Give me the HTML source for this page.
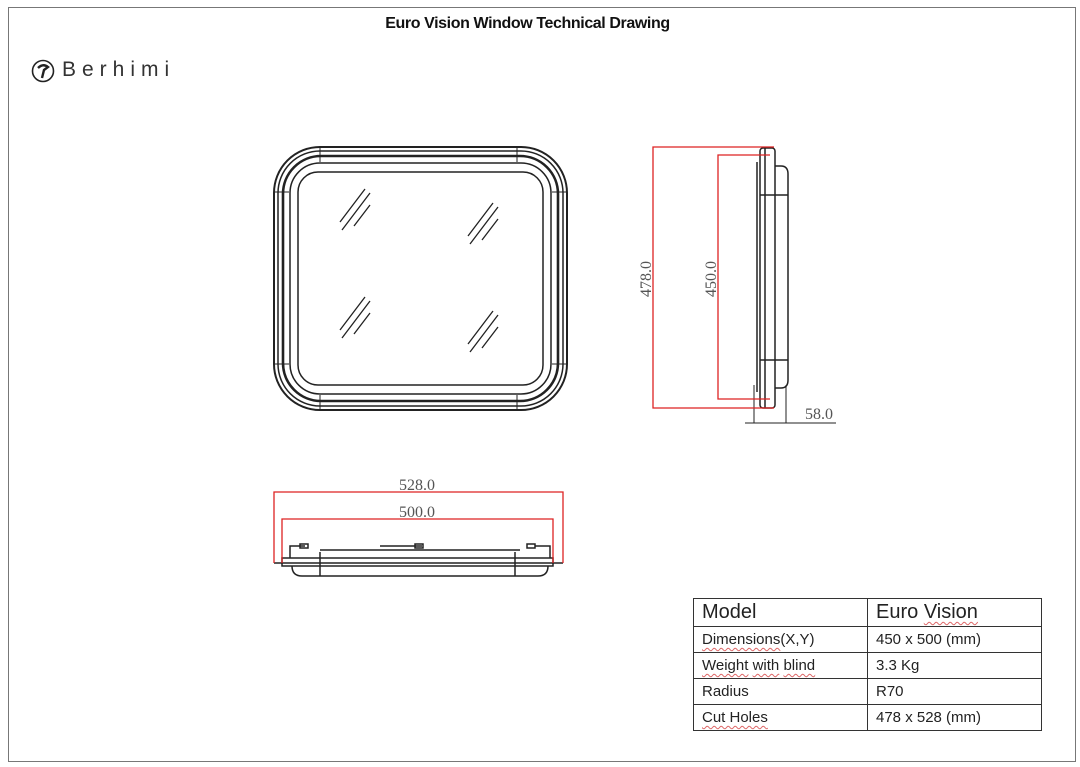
<!DOCTYPE html>
<html><head><style>
body{margin:0;background:#fff;width:1080px;height:767px;overflow:hidden;position:relative;font-family:"Liberation Sans",sans-serif}
.frame{position:absolute;left:8px;top:7px;width:1068px;height:755px;border:1.5px solid #777;box-sizing:border-box}
.title{position:absolute;left:0;width:1055px;top:15px;text-align:center;font-weight:bold;font-size:16px;color:#111;letter-spacing:-0.4px}
.logo{position:absolute;left:62px;top:58px;font-size:21px;letter-spacing:6px;color:#333}
table{position:absolute;left:693px;top:598px;border-collapse:collapse;font-family:"Liberation Sans",sans-serif;color:#222}
td{border:1px solid #333;padding:0 8px;font-size:15px;height:25px}
.w{text-decoration:underline wavy #d66;text-decoration-thickness:1px;text-underline-offset:3px}
</style></head><body>
<div class="frame"></div>
<div class="title">Euro Vision Window Technical Drawing</div>
<svg style="position:absolute;left:31px;top:59px" width="24" height="24"><circle cx="12" cy="12" r="10.5" fill="none" stroke="#222" stroke-width="1.6"/><path d="M7 9 Q12 4 17 8 L13 11 L11 19" fill="none" stroke="#222" stroke-width="2.4"/></svg>
<div class="logo">Berhimi</div>
<svg style="position:absolute;left:0;top:0" width="1080" height="767" fill="none">
<g stroke="#222" stroke-width="1.5">
<rect x="274" y="147" width="293" height="263" rx="46" stroke-width="2"/>
<rect x="278" y="151" width="285" height="255" rx="42"/>
<rect x="283" y="156" width="275" height="245" rx="38" stroke-width="2.6"/>
<rect x="290" y="163" width="261" height="231" rx="30"/>
<rect x="298" y="172" width="245" height="213" rx="20"/>
<path d="M320 147v15M517 147v15M320 395v15M517 395v15M274 192h15M274 364h15M552 192h15M552 364h15" stroke-width="1"/>
<g id="h" stroke-width="1.3"><path d="M340 222l25-33M342 230l28-37M354 226l16-21"/></g>
<use href="#h" x="0" y="108"/>
<use href="#h" x="128" y="14"/>
<use href="#h" x="128" y="122"/>
<!-- side -->
<rect x="760" y="148" width="15" height="260" rx="3"/>
<path d="M775 166h6q7 0 7 8v206q0 8-7 8h-6" />
<path d="M757 162v230M765 148v260M775 195h13M775 360h13M760 195h15M760 360h15"/>
<path d="M754 385v38M786 385v38M745 423h91" stroke-width="1"/>
<!-- bottom -->
<path d="M282 558h271v8H282z"/>
<path d="M274 563h289M292 566q0 10 10 10h236q10 0 10-10M290 558v-12h15M535 546h15v12M380 546h42M320 550h200M320 552v24M515 552v24"/>
<rect x="300" y="544" width="8" height="4"/><rect x="415" y="544" width="8" height="4"/><rect x="527" y="544" width="8" height="4"/>
</g>
<g stroke="#d22" stroke-width="1.3">
<path d="M774 147H653V408H774M770 155H718V399H770"/>
<path d="M274 563V492H563V563M282 563V519H553V563"/>
</g>
<g fill="#555" font-family="Liberation Serif,serif" font-size="16">
<text x="0" y="0" transform="translate(651 297) rotate(-90)">478.0</text>
<text x="0" y="0" transform="translate(716 297) rotate(-90)">450.0</text>
<text x="805" y="419">58.0</text>
<text x="399" y="490">528.0</text>
<text x="399" y="517">500.0</text>
</g>
</svg>
<table>
<tr><td style="width:157px;font-size:20px;height:27px">Model</td><td style="width:157px;font-size:20px">Euro <span class="w">Vision</span></td></tr>
<tr><td><span class="w">Dimensions</span>(X,Y)</td><td>450 x 500 (mm)</td></tr>
<tr><td><span class="w">Weight</span> <span class="w">with</span> <span class="w">blind</span></td><td>3.3 Kg</td></tr>
<tr><td>Radius</td><td>R70</td></tr>
<tr><td><span class="w">Cut Holes</span></td><td>478 x 528 (mm)</td></tr>
</table>
</body></html>
